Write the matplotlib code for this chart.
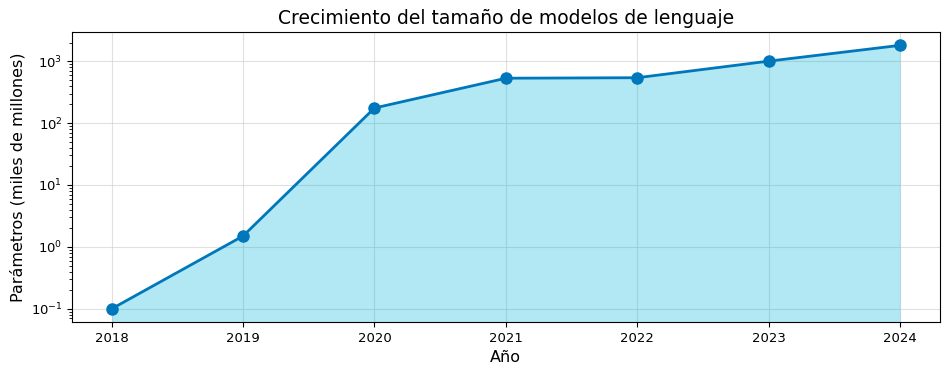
import matplotlib
matplotlib.use("Agg")
import matplotlib.pyplot as plt

years = [2018, 2019, 2020, 2021, 2022, 2023, 2024]
params = [0.1, 1.5, 175, 530, 540, 1000, 1800]
title = "Crecimiento del tamaño de modelos de lenguaje"
xlabel = "Año"
ylabel = "Parámetros (miles de millones)"

fig, ax = plt.subplots(figsize=(9.5, 3.74), dpi=100)
ax.plot(years, params, color="#0077bb", lw=2, marker="o", ms=8, zorder=3)
ax.set_yscale("log")
ymin, ymax = ax.get_ylim()
ax.fill_between(years, params, ymin, color="#00b4d8", alpha=0.3, zorder=1, lw=0)
ax.set_ylim(ymin, ymax)
ax.grid(True, color="#cccccc", lw=0.8, alpha=0.6)
ax.set_axisbelow(True)
ax.set_title(title, fontsize=13.5)
ax.set_xlabel(xlabel, fontsize=11.5)
ax.set_ylabel(ylabel, fontsize=11.5)
ax.tick_params(labelsize=9.5)
fig.subplots_adjust(left=0.076, right=0.989, top=0.914, bottom=0.139)
fig.savefig("out.png")
